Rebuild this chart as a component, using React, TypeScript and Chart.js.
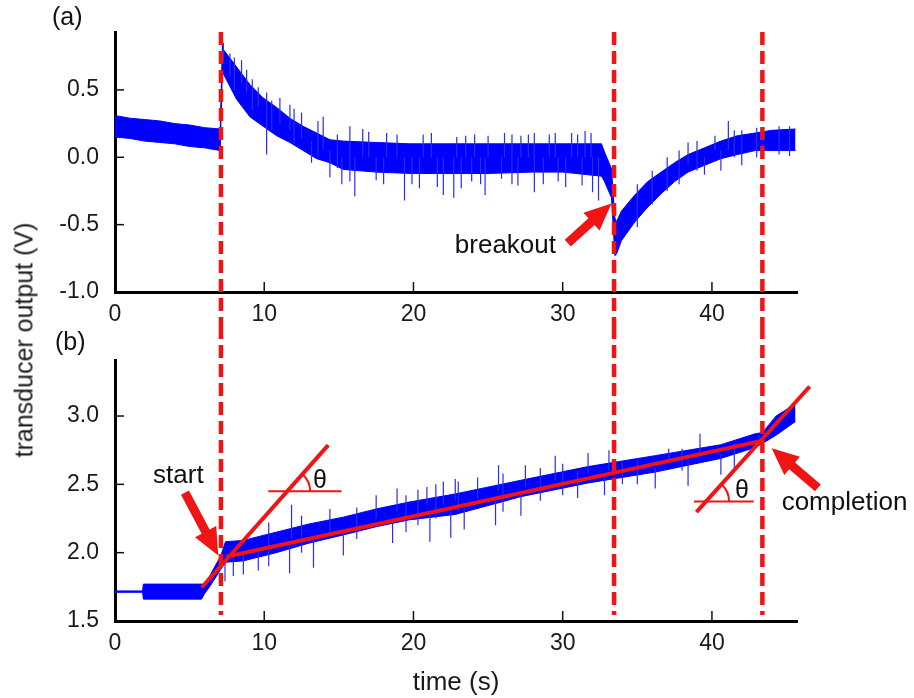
import React, { useEffect, useRef } from 'react';
import { Chart, registerables } from 'chart.js';

Chart.register(...registerables);

const FONT = '"Liberation Sans", Arial, Helvetica, sans-serif';
const BLUE = '#0000ff';
const SPIKE_BLUE = '#2a2aff';
const RED = '#f01414';

// ---------- data ----------
const X_MIN = 0;
const X_MAX = 45.7;
const X_TICKS = [0, 10, 20, 30, 40];

const Y_RANGE_A = [-1.0, 0.93];
const Y_TICKS_A = [-1.0, -0.5, 0.0, 0.5];
const Y_RANGE_B = [1.5, 3.41];
const Y_TICKS_B = [1.5, 2.0, 2.5, 3.0];

// event times (dashed lines): start, breakout, completion
const EVENT_TIMES = [7.1, 33.44, 43.38];

// panel (a): dense band of the signal [time, upper, lower]
const BAND_A: number[][] = [
  [0.0, 0.31, 0.15], [1.0, 0.29, 0.14], [2.0, 0.28, 0.12], [3.0, 0.27, 0.11],
  [4.0, 0.25, 0.1], [5.0, 0.24, 0.08], [6.0, 0.22, 0.07], [7.05, 0.21, 0.05],
  [7.2, 0.84, 0.66], [7.26, 0.8, 0.62], [8.15, 0.67, 0.43], [9.04, 0.54, 0.3],
  [9.93, 0.44, 0.23], [10.83, 0.37, 0.16], [11.72, 0.29, 0.11], [12.61, 0.23, 0.05],
  [13.51, 0.18, -0.01], [14.4, 0.13, -0.04], [15.29, 0.12, -0.09], [17.5, 0.11, -0.11],
  [19.76, 0.1, -0.12], [22.0, 0.1, -0.12], [25.0, 0.1, -0.12], [28.0, 0.1, -0.11],
  [30.0, 0.1, -0.11], [32.6, 0.1, -0.14], [32.8, 0.04, -0.18], [33.27, -0.085, -0.3],
  [33.4, -0.3, -0.55], [33.5, -0.45, -0.73], [33.6, -0.48, -0.72], [33.93, -0.4, -0.62],
  [34.83, -0.28, -0.48], [35.7, -0.18, -0.37], [36.6, -0.11, -0.27], [37.5, -0.04, -0.18],
  [38.4, 0.02, -0.11], [39.5, 0.07, -0.06], [40.6, 0.12, -0.01], [41.7, 0.16, 0.02],
  [42.9, 0.18, 0.05], [44.0, 0.2, 0.05], [45.6, 0.21, 0.05],
];

// panel (a): isolated noise spikes [time, low, high]
const SPIKES_A: number[][] = [
  [7.26, 0.7, 0.85], [7.7, 0.6, 0.77], [8.0, 0.5, 0.74], [8.48, 0.55, 0.72],
  [8.82, 0.48, 0.65], [9.2, 0.35, 0.58], [9.6, 0.38, 0.52], [10.16, 0.02, 0.48],
  [10.5, 0.2, 0.42], [11.05, 0.25, 0.44], [11.72, 0.2, 0.39], [12.0, 0.1, 0.36],
  [12.5, 0.14, 0.33], [13.17, -0.04, 0.12], [13.6, 0.0, 0.27], [13.95, 0.06, 0.3],
  [14.4, -0.15, 0.05], [14.9, -0.08, 0.17], [15.2, -0.2, 0.0], [15.74, -0.18, 0.23],
  [16.07, -0.29, 0.0], [16.6, 0.0, 0.21], [17.0, 0.0, 0.19], [17.5, -0.17, 0.0],
  [18.0, -0.2, 0.0], [18.2, 0.0, 0.18], [18.9, 0.0, 0.17], [19.4, -0.32, 0.0],
  [19.9, -0.2, 0.0], [20.4, -0.23, 0.0], [20.65, 0.0, 0.17], [21.2, 0.0, 0.18],
  [21.6, -0.22, 0.0], [22.0, -0.28, 0.0], [22.7, -0.3, 0.0], [22.9, 0.0, 0.15],
  [23.2, -0.23, 0.0], [23.5, 0.0, 0.16], [23.9, -0.18, 0.0], [24.1, 0.0, 0.17],
  [24.5, -0.2, 0.0], [24.8, -0.28, 0.0], [25.0, 0.0, 0.16], [25.9, -0.16, 0.0],
  [26.1, 0.0, 0.18], [26.6, -0.2, 0.17], [27.0, -0.21, 0.0], [27.2, 0.0, 0.16],
  [27.7, 0.0, 0.17], [28.1, -0.26, 0.18], [28.7, -0.2, 0.0], [29.1, 0.0, 0.17],
  [29.5, 0.0, 0.18], [29.7, -0.18, 0.0], [30.2, -0.22, 0.0], [30.6, 0.0, 0.18],
  [31.0, 0.0, 0.17], [31.3, -0.21, 0.0], [31.5, 0.0, 0.195], [31.9, 0.0, 0.18],
  [32.0, -0.26, 0.0], [32.4, -0.32, 0.0], [35.0, -0.52, -0.2], [36.0, -0.35, -0.1],
  [37.0, -0.25, 0.0], [37.8, -0.2, 0.05], [38.4, -0.05, 0.11], [39.0, -0.1, 0.12],
  [39.5, -0.13, 0.0], [40.2, 0.05, 0.16], [40.6, -0.1, 0.05], [41.1, 0.05, 0.27],
  [41.5, 0.0, 0.2], [42.0, -0.06, 0.2], [43.0, 0.0, 0.22], [44.5, 0.02, 0.23],
  [45.2, 0.01, 0.23],
];

// panel (b): dense band [time, upper, lower]
const BAND_B: number[][] = [
  [0.0, 1.72, 1.71], [1.85, 1.72, 1.71], [1.9, 1.77, 1.66], [5.8, 1.77, 1.66],
  [6.0, 1.77, 1.7], [6.4, 1.84, 1.76], [7.1, 1.98, 1.88], [7.4, 2.08, 1.93],
  [8.6, 2.09, 1.94], [10.8, 2.15, 2.0], [13.0, 2.21, 2.07], [15.3, 2.26, 2.13],
  [17.5, 2.32, 2.19], [19.7, 2.37, 2.24], [22.8, 2.43, 2.28], [27.2, 2.53, 2.41],
  [31.7, 2.63, 2.51], [36.2, 2.71, 2.59], [40.6, 2.79, 2.69], [42.9, 2.87, 2.77],
  [43.4, 2.88, 2.8], [44.3, 3.0, 2.86], [45.6, 3.09, 2.96],
];

// panel (b): isolated noise spikes [time, low, high]
const SPIKES_B: number[][] = [
  [7.37, 1.79, 1.95], [7.93, 1.83, 1.97], [8.6, 1.84, 2.0], [9.6, 1.87, 2.02],
  [10.3, 1.9, 2.22], [11.7, 1.85, 2.05], [11.83, 2.1, 2.35], [12.5, 2.0, 2.27],
  [13.3, 1.89, 2.1], [14.4, 2.15, 2.32], [15.3, 1.98, 2.15], [16.2, 2.1, 2.33],
  [17.5, 2.25, 2.42], [18.6, 2.07, 2.25], [18.9, 2.3, 2.47], [19.5, 2.15, 2.42],
  [20.3, 2.2, 2.46], [20.9, 2.35, 2.48], [21.1, 2.08, 2.3], [21.5, 2.25, 2.5],
  [22.0, 2.35, 2.52], [22.5, 2.11, 2.33], [22.8, 2.38, 2.54], [23.0, 2.3, 2.52],
  [23.4, 2.17, 2.33], [24.3, 2.4, 2.55], [25.5, 2.2, 2.38], [25.7, 2.45, 2.64],
  [26.0, 2.3, 2.58], [27.2, 2.27, 2.45], [27.5, 2.48, 2.64], [28.5, 2.38, 2.62],
  [29.5, 2.53, 2.71], [30.0, 2.42, 2.65], [31.0, 2.4, 2.6], [31.7, 2.58, 2.73],
  [32.8, 2.42, 2.55], [33.1, 2.6, 2.75], [34.0, 2.5, 2.66], [35.0, 2.5, 2.68],
  [36.2, 2.47, 2.62], [37.1, 2.66, 2.76], [38.0, 2.6, 2.76], [38.4, 2.49, 2.68],
  [39.2, 2.72, 2.87], [40.6, 2.57, 2.72], [41.5, 2.62, 2.8],
];

// panel (b): fitted straight lines [time, value]
const FIT_MAIN = [[7.45, 1.97], [43.4, 2.82]];
const FIT_START = [[5.81, 1.745], [14.29, 2.787]];
const FIT_END = [[38.96, 2.297], [46.55, 3.216]];
const REF_START = [[10.27, 2.449], [15.18, 2.449]];
const REF_END = [[38.8, 2.375], [42.8, 2.375]];

// ---------- helpers ----------
const pts = (arr: number[][], k: number) => arr.map((r) => ({ x: r[0], y: r[k] }));
const spikePts = (arr: number[][]) => {
  const out: any[] = [];
  arr.forEach(([t, lo, hi]) => {
    out.push({ x: t, y: lo }, { x: t, y: hi }, { x: t, y: null });
  });
  return out;
};

function drawArrow(ctx: CanvasRenderingContext2D, x0: number, y0: number, x1: number, y1: number) {
  const dx = x1 - x0, dy = y1 - y0;
  const len = Math.hypot(dx, dy);
  const ux = dx / len, uy = dy / len;
  const nx = -uy, ny = ux;
  const shaft = 4.5, head = 27, hw = 12;
  const bx = x1 - ux * head, by = y1 - uy * head;
  ctx.beginPath();
  ctx.moveTo(x0 + nx * shaft, y0 + ny * shaft);
  ctx.lineTo(bx + nx * shaft, by + ny * shaft);
  ctx.lineTo(bx + nx * hw, by + ny * hw);
  ctx.lineTo(x1, y1);
  ctx.lineTo(bx - nx * hw, by - ny * hw);
  ctx.lineTo(bx - nx * shaft, by - ny * shaft);
  ctx.lineTo(x0 - nx * shaft, y0 - ny * shaft);
  ctx.closePath();
  ctx.fillStyle = RED;
  ctx.fill();
}

type Note = { text: string; t: number; v: number; size: number };
type Arrow = { from: [number, number]; to: [number, number] };
type Angle = { steep: number[][]; ref: number[][] };

interface PanelSpec {
  label: string;
  labelX: number;
  labelY: number;
  dashTopToArea: boolean;
  notes: Note[];
  arrows: Arrow[];
  angles: Angle[];
}

function makePlugin(spec: PanelSpec) {
  return {
    id: 'panelDecor',
    afterDatasetsDraw(chart: any) {
      const { ctx, chartArea, scales } = chart;
      const xs = scales.x;
      ctx.save();
      ctx.strokeStyle = RED;
      ctx.lineWidth = 4.5;
      ctx.setLineDash([13, 6]);
      const y0 = spec.dashTopToArea ? chartArea.top : 0;
      const y1 = spec.dashTopToArea ? chart.height : chartArea.bottom - 6;
      EVENT_TIMES.forEach((t) => {
        const x = xs.getPixelForValue(t);
        ctx.beginPath();
        ctx.moveTo(x, y0);
        ctx.lineTo(x, y1);
        ctx.stroke();
      });
      ctx.restore();
    },
    afterDraw(chart: any) {
      const { ctx, chartArea, scales } = chart;
      const xs = scales.x, ys = scales.y;
      ctx.save();
      ctx.strokeStyle = '#111';
      ctx.lineWidth = 1.5;
      xs.ticks.forEach((tk: any) => {
        const x = xs.getPixelForValue(tk.value);
        if (x <= chartArea.left + 2) return;
        ctx.beginPath();
        ctx.moveTo(x, chartArea.bottom);
        ctx.lineTo(x, chartArea.bottom - 10);
        ctx.stroke();
      });
      ys.ticks.forEach((tk: any) => {
        const y = ys.getPixelForValue(tk.value);
        if (y >= chartArea.bottom - 2) return;
        ctx.beginPath();
        ctx.moveTo(chartArea.left, y);
        ctx.lineTo(chartArea.left + 9, y);
        ctx.stroke();
      });
      ctx.fillStyle = '#111';
      ctx.font = `25px ${FONT}`;
      ctx.textAlign = 'left';
      ctx.textBaseline = 'alphabetic';
      ctx.fillText(spec.label, spec.labelX, spec.labelY);
      spec.angles.forEach((a) => {
        const [[t1, v1], [t2, v2]] = a.steep;
        const vr = a.ref[0][1];
        const slope = (v2 - v1) / (t2 - t1);
        const tc = t1 + (vr - v1) / slope;
        const cx = xs.getPixelForValue(tc);
        const cy = ys.getPixelForValue(vr);
        const px2 = xs.getPixelForValue(t2), py2 = ys.getPixelForValue(v2);
        const ang = Math.atan2(py2 - cy, px2 - cx);
        ctx.beginPath();
        ctx.strokeStyle = RED;
        ctx.lineWidth = 2;
        ctx.arc(cx, cy, 23, ang, 0);
        ctx.stroke();
      });
      spec.arrows.forEach((ar) => {
        drawArrow(
          ctx,
          xs.getPixelForValue(ar.from[0]), ys.getPixelForValue(ar.from[1]),
          xs.getPixelForValue(ar.to[0]), ys.getPixelForValue(ar.to[1])
        );
      });
      spec.notes.forEach((n) => {
        ctx.fillStyle = '#111';
        ctx.font = `${n.size}px ${FONT}`;
        ctx.textAlign = 'left';
        ctx.textBaseline = 'alphabetic';
        ctx.fillText(n.text, xs.getPixelForValue(n.t), ys.getPixelForValue(n.v));
      });
      ctx.restore();
    },
  };
}

function lineDs(data: any[], color: string, width: number, order: number, extra: any = {}) {
  return {
    data,
    borderColor: color,
    backgroundColor: color,
    borderWidth: width,
    pointRadius: 0,
    tension: 0,
    fill: false,
    spanGaps: false,
    order,
    ...extra,
  };
}

function makeScales(yRange: number[], yTicks: number[], xHeight: number, withTitle: boolean) {
  return {
    x: {
      type: 'linear',
      min: X_MIN,
      max: X_MAX,
      offset: false,
      afterBuildTicks: (s: any) => {
        s.ticks = X_TICKS.map((v) => ({ value: v }));
      },
      afterFit: (s: any) => {
        s.height = xHeight;
      },
      grid: { display: false, drawTicks: false },
      border: { display: true, width: 3, color: '#000' },
      ticks: {
        color: '#1a1a1a',
        font: { family: FONT, size: 23 },
        padding: 9,
        maxRotation: 0,
        autoSkip: false,
        callback: (v: any) => String(v),
      },
      title: withTitle
        ? {
            display: true,
            text: 'time (s)',
            color: '#1a1a1a',
            font: { family: FONT, size: 26 },
            padding: { top: 0, bottom: 0 },
          }
        : { display: false },
    },
    y: {
      type: 'linear',
      min: yRange[0],
      max: yRange[1],
      afterBuildTicks: (s: any) => {
        s.ticks = yTicks.map((v) => ({ value: v }));
      },
      afterFit: (s: any) => {
        s.width = 115;
      },
      grid: { display: false, drawTicks: false },
      border: { display: true, width: 3, color: '#000' },
      ticks: {
        color: '#1a1a1a',
        font: { family: FONT, size: 23 },
        padding: 16,
        callback: (v: any) => Number(v).toFixed(1),
      },
    },
  };
}

const baseOptions = (scales: any, padTop: number) => ({
  responsive: false,
  maintainAspectRatio: false,
  animation: false,
  devicePixelRatio: 1,
  layout: { padding: { top: padTop, left: 0, right: 117, bottom: 0 } },
  plugins: { legend: { display: false }, tooltip: { enabled: false } },
  events: [],
  scales,
});

const H_A = 326;
const H_B = 698 - H_A;

export default function App() {
  const refA = useRef<HTMLCanvasElement>(null);
  const refB = useRef<HTMLCanvasElement>(null);

  useEffect(() => {
    const specA: PanelSpec = {
      label: '(a)',
      labelX: 52,
      labelY: 25,
      dashTopToArea: true,
      notes: [{ text: 'breakout', t: 22.77, v: -0.711, size: 26 }],
      arrows: [{ from: [30.34, -0.637], to: [33.27, -0.343] }],
      angles: [],
    };
    const specB: PanelSpec = {
      label: '(b)',
      labelX: 55,
      labelY: 24,
      dashTopToArea: false,
      notes: [
        { text: 'start', t: 2.55, v: 2.508, size: 26 },
        { text: 'completion', t: 44.67, v: 2.313, size: 26 },
        { text: 'θ', t: 13.27, v: 2.474, size: 25 },
        { text: 'θ', t: 41.55, v: 2.4, size: 25 },
      ],
      arrows: [
        { from: [4.69, 2.44], to: [6.92, 1.98] },
        { from: [47.1, 2.474], to: [44.0, 2.764] },
      ],
      angles: [
        { steep: FIT_START, ref: REF_START },
        { steep: FIT_END, ref: REF_END },
      ],
    };

    const chartA = new Chart(refA.current as HTMLCanvasElement, {
      type: 'line',
      data: {
        datasets: [
          lineDs(pts(BAND_A, 1), BLUE, 1, 3, { fill: '+1' }),
          lineDs(pts(BAND_A, 2), BLUE, 1, 4),
          lineDs(spikePts(SPIKES_A), SPIKE_BLUE, 1.2, 2),
        ],
      } as any,
      options: baseOptions(makeScales(Y_RANGE_A, Y_TICKS_A, 34, false), 32) as any,
      plugins: [makePlugin(specA)],
    });

    const chartB = new Chart(refB.current as HTMLCanvasElement, {
      type: 'line',
      data: {
        datasets: [
          lineDs(pts(BAND_B, 1), BLUE, 1, 3, { fill: '+1' }),
          lineDs(pts(BAND_B, 2), BLUE, 1, 4),
          lineDs(spikePts(SPIKES_B), SPIKE_BLUE, 1.2, 2),
          lineDs(pts(FIT_MAIN, 1), RED, 4, 1),
          lineDs(pts(FIT_START, 1), RED, 4, 1),
          lineDs(pts(FIT_END, 1), RED, 4, 1, { clip: false }),
          lineDs(pts(REF_START, 1), RED, 2, 1),
          lineDs(pts(REF_END, 1), RED, 2, 1),
        ],
      } as any,
      options: baseOptions(makeScales(Y_RANGE_B, Y_TICKS_B, H_B - 295, true), 34) as any,
      plugins: [makePlugin(specB)],
    });

    return () => {
      chartA.destroy();
      chartB.destroy();
    };
  }, []);

  return (
    <div style={{ position: 'absolute', left: 0, top: 0, width: 914, height: 698, background: '#fff' }}>
      <canvas ref={refA} width={914} height={H_A} style={{ position: 'absolute', left: 0, top: 0, width: 914, height: H_A }} />
      <canvas ref={refB} width={914} height={H_B} style={{ position: 'absolute', left: 0, top: H_A, width: 914, height: H_B }} />
      <div
        style={{
          position: 'absolute',
          left: 24,
          top: 340,
          transform: 'translate(-50%, -50%) rotate(-90deg)',
          fontFamily: FONT,
          fontSize: 25,
          color: '#1a1a1a',
          whiteSpace: 'nowrap',
          lineHeight: 1,
        }}
      >
        transducer output (V)
      </div>
    </div>
  );
}
